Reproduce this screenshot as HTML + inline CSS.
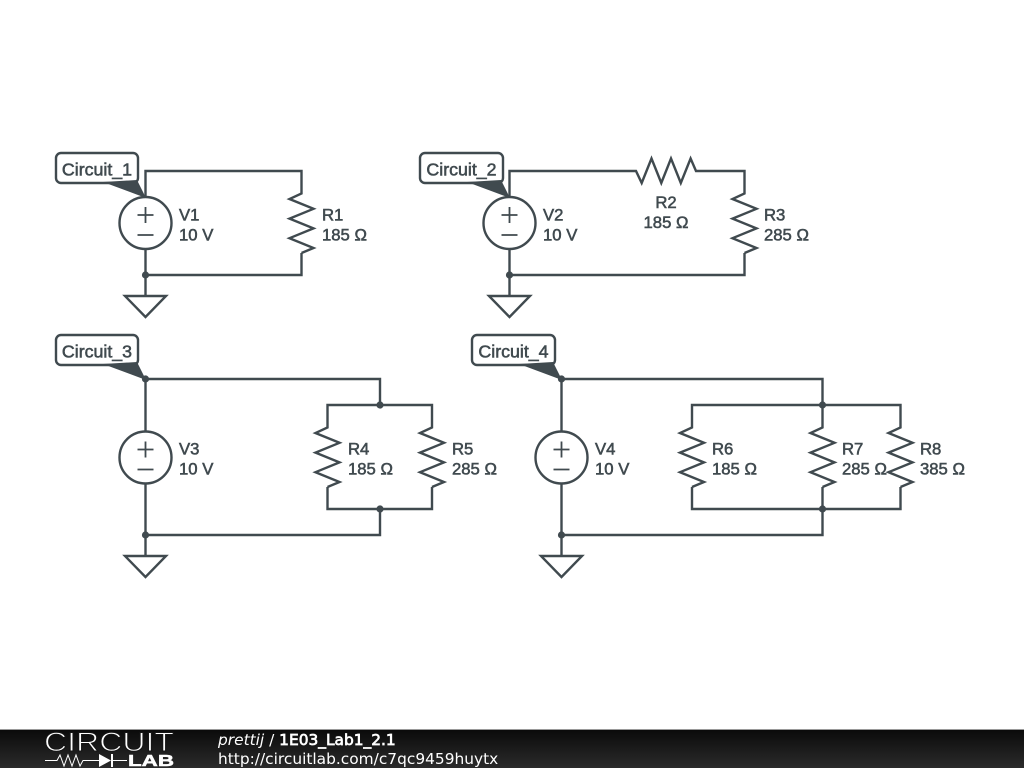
<!DOCTYPE html>
<html><head><meta charset="utf-8"><style>
html,body{margin:0;padding:0;background:#fff;width:1024px;height:768px;overflow:hidden}
svg{display:block}
.w{fill:none;stroke:#404a4f;stroke-width:2.4;stroke-linejoin:miter}
text{font-family:"Liberation Sans",sans-serif}
.l{font-size:16.7px;fill:#404a4f;stroke:#404a4f;stroke-width:.55}
.t{font-size:17.8px;text-anchor:middle}
.c{text-anchor:middle}
.f{font-family:"DejaVu Sans",sans-serif;font-size:15.4px;fill:#fff}
</style></head><body>
<svg width="1024" height="768" viewBox="0 0 1024 768" xmlns="http://www.w3.org/2000/svg">
<defs>
<linearGradient id="g" x1="0" y1="0" x2="0" y2="1"><stop offset="0" stop-color="#0a0a0a"/><stop offset="1" stop-color="#2b2b2b"/></linearGradient>
<g id="rv"><path class="w" d="M0,-30 L0,-29.500 L-12,-24 L12,-14.200 L-12,-4.400 L12,5.400 L-12,15.200 L12,25 L0,30"/></g>
<g id="v"><circle class="w" cx="0" cy="0" r="26" fill="#fff"/><path class="w" d="M-8,-8H8M0,-16V0M-8,12H8" style="stroke-width:1.8"/></g>
<g id="gnd"><path class="w" d="M0,0V21M-20.500,21H20.500L0,42Z"/></g>
</defs>
<rect width="1024" height="768" fill="#fff"/>

<!-- Circuit 1 -->
<path class="w" d="M145.500,197V171H301.500V193M301.500,253V275H145.500V249"/>
<use href="#rv" x="301.500" y="223"/><use href="#v" x="145.500" y="223"/><use href="#gnd" x="145.500" y="275"/>
<circle cx="145.500" cy="275" r="3.600" fill="#404a4f"/>
<text class="l" x="179" y="220.500">V1</text><text class="l" x="179" y="240.500">10 V</text>
<text class="l" x="322" y="220.500">R1</text><text class="l" x="322" y="240.500">185 Ω</text>
<path d="M103,182 L137,180 L146,198Z" fill="#404a4f"/>
<rect class="w" x="56" y="153" width="82" height="30" rx="5" fill="#fff"/>
<text class="l t" x="97" y="175.500">Circuit_1</text>

<!-- Circuit 2 -->
<path class="w" d="M509.500,197V171H636L641.700,183L651.500,158.500L661.300,183L671,158.500L680.800,183L690.600,158.500L696,171H744.500V193M744.500,253V275H509.500V249"/>
<use href="#rv" x="744.500" y="223"/><use href="#v" x="509.500" y="223"/><use href="#gnd" x="509.500" y="275"/>
<circle cx="509.500" cy="275" r="3.600" fill="#404a4f"/>
<text class="l" x="543" y="220.500">V2</text><text class="l" x="543" y="240.500">10 V</text>
<text class="l c" x="666" y="208">R2</text><text class="l c" x="666" y="228">185 Ω</text>
<text class="l" x="764" y="220.500">R3</text><text class="l" x="764" y="240.500">285 Ω</text>
<path d="M467,182 L501,180 L510,198Z" fill="#404a4f"/>
<rect class="w" x="420" y="153" width="83" height="30" rx="5" fill="#fff"/>
<text class="l t" x="461.500" y="175.500">Circuit_2</text>

<!-- Circuit 3 -->
<path class="w" d="M145.500,431V379H380V405M327.500,427V405H432V427M327.500,487V509H432V487M380,509V535H145.500V483"/>
<use href="#rv" x="327.500" y="457"/><use href="#rv" x="432" y="457"/><use href="#v" x="145.500" y="457.500"/><use href="#gnd" x="145.500" y="535"/>
<g fill="#404a4f"><circle cx="145.500" cy="379" r="3.600"/><circle cx="380" cy="405" r="3.600"/><circle cx="380" cy="509" r="3.600"/><circle cx="145.500" cy="535" r="3.600"/></g>
<text class="l" x="179" y="454.500">V3</text><text class="l" x="179" y="474.500">10 V</text>
<text class="l" x="348" y="454.500">R4</text><text class="l" x="348" y="474.500">185 Ω</text>
<text class="l" x="452" y="454.500">R5</text><text class="l" x="452" y="474.500">285 Ω</text>
<path d="M103,364 L137,362 L146,380Z" fill="#404a4f"/>
<rect class="w" x="56" y="335" width="82" height="30" rx="5" fill="#fff"/>
<text class="l t" x="97" y="357.500">Circuit_3</text>

<!-- Circuit 4 -->
<path class="w" d="M561.500,431V379H822.500V427M692,427V405H900.500V427M692,487V509H900.500V487M822.500,487V535H561.500V483"/>
<use href="#rv" x="692" y="457"/><use href="#rv" x="822.500" y="457"/><use href="#rv" x="900.500" y="457"/><use href="#v" x="561.500" y="457.500"/><use href="#gnd" x="561.500" y="535"/>
<g fill="#404a4f"><circle cx="561.500" cy="379" r="3.600"/><circle cx="822.500" cy="405" r="3.600"/><circle cx="822.500" cy="509" r="3.600"/><circle cx="561.500" cy="535" r="3.600"/></g>
<text class="l" x="595" y="454.500">V4</text><text class="l" x="595" y="474.500">10 V</text>
<text class="l" x="712" y="454.500">R6</text><text class="l" x="712" y="474.500">185 Ω</text>
<text class="l" x="842" y="454.500">R7</text><text class="l" x="842" y="474.500">285 Ω</text>
<text class="l" x="920" y="454.500">R8</text><text class="l" x="920" y="474.500">385 Ω</text>
<path d="M519,364 L553,362 L562,380Z" fill="#404a4f"/>
<rect class="w" x="472" y="335" width="83" height="30" rx="5" fill="#fff"/>
<text class="l t" x="513.500" y="357.500">Circuit_4</text>

<!-- Footer -->
<rect x="0" y="729" width="1024" height="39" fill="url(#g)"/>
<rect x="0" y="729" width="1024" height="1" fill="#999"/>
<text x="44" y="751" font-size="27" fill="#fff" stroke="#161616" stroke-width="1" textLength="130" lengthAdjust="spacingAndGlyphs">CIRCUIT</text>
<path d="M45,760.500H57L60,755L64,766L68,755L72,766L76,755L80,766L83,760.500H99M113,760.500H127" fill="none" stroke="#fff" stroke-width="1"/>
<path d="M99,754L111,760.500L99,767Z" fill="#fff"/><rect x="111" y="754" width="2" height="13" fill="#fff"/>
<text x="128" y="766" font-size="16" font-weight="bold" fill="#fff" stroke="#fff" stroke-width=".5" textLength="46" lengthAdjust="spacingAndGlyphs">LAB</text>
<text class="f" x="218" y="745"><tspan font-style="italic">prettij</tspan> / <tspan stroke="#fff" stroke-width=".7">1E03_Lab1_2.1</tspan></text>
<text class="f" x="218" y="764">http://circuitlab.com/c7qc9459huytx</text>
</svg>
</body></html>
